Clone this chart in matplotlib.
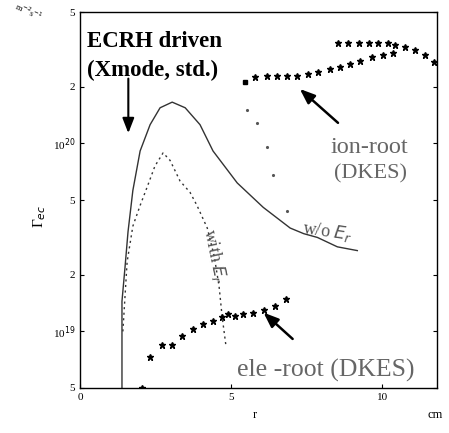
import matplotlib
matplotlib.use("Agg")
import matplotlib.pyplot as plt
import numpy as np

# ---- data ----
r_woEr = [1.39, 1.39, 1.49, 1.59, 1.75, 1.99, 2.32, 2.65, 3.05, 3.48, 3.97, 4.40, 5.20, 6.06, 6.95, 7.40, 7.85, 8.51, 9.17]
log_woEr = [18.65, 19.16, 19.34, 19.53, 19.75, 19.96, 20.10, 20.19, 20.22, 20.19, 20.10, 19.96, 19.79, 19.66, 19.55, 19.52, 19.50, 19.45, 19.43]

r_withEr = [1.42, 1.56, 1.75, 1.99, 2.25, 2.48, 2.75, 2.98, 3.31, 3.64, 3.87, 4.21, 4.44, 4.60, 4.70, 4.83]
log_withEr = [19.00, 19.37, 19.56, 19.67, 19.78, 19.88, 19.95, 19.91, 19.80, 19.74, 19.67, 19.55, 19.40, 19.24, 19.08, 18.92]

r_sparse = [5.53, 5.86, 6.19, 6.39, 6.85]
log_sparse = [20.18, 20.11, 19.98, 19.83, 19.64]

r_ion_lo = [5.46, 5.79, 6.19, 6.52, 6.85, 7.19, 7.55, 7.88, 8.28, 8.61, 8.94, 9.27, 9.67, 10.03, 10.36]
log_ion_lo = [20.326, 20.353, 20.358, 20.358, 20.358, 20.358, 20.369, 20.380, 20.396, 20.406, 20.422, 20.439, 20.460, 20.471, 20.481]

r_ion_hi = [8.54, 8.87, 9.21, 9.54, 9.87, 10.17, 10.43, 10.76, 11.09, 11.42, 11.69]
log_ion_hi = [20.535, 20.535, 20.535, 20.535, 20.535, 20.535, 20.524, 20.513, 20.497, 20.471, 20.433]

r_ele = [2.05, 2.32, 2.72, 3.05, 3.38, 3.74, 4.07, 4.40, 4.70, 4.90, 5.13, 5.40, 5.73, 6.09, 6.46, 6.82]
log_ele = [18.70, 18.866, 18.93, 18.93, 18.973, 19.011, 19.037, 19.053, 19.075, 19.091, 19.080, 19.091, 19.096, 19.112, 19.134, 19.171]

ytick_vals = [5e18, 1e19, 2e19, 5e19, 1e20, 2e20, 5e20]
ytick_labels = ["5", "10$^{19}$", "2", "5", "10$^{20}$", "2", "5"]
xtick_vals = [0, 5, 10]
xtick_labels = ["0", "5", "10"]

plt.rcParams['font.family'] = ['Liberation Serif', 'DejaVu Serif']
fig = plt.figure(figsize=(4.49, 4.33), dpi=100)
ax = fig.add_axes([0.178, 0.104, 0.795, 0.868])

p = lambda l: 10 ** np.array(l)
ax.plot(r_woEr, p(log_woEr), color='#333333', lw=1.0)
ax.plot(r_withEr, p(log_withEr), color='#333333', lw=1.0, ls=(0, (1.5, 2.5)))
ax.plot(r_sparse, p(log_sparse), color='#555555', lw=0, marker='.', ms=2.5)
ax.plot(r_ion_lo[1:], p(log_ion_lo[1:]), ls='none', marker='*', ms=5, color='black')
ax.plot(r_ion_lo[:1], p(log_ion_lo[:1]), ls='none', marker='s', ms=3.5, color='black')
ax.plot(r_ion_hi, p(log_ion_hi), ls='none', marker='*', ms=5, color='black')
ax.plot(r_ele, p(log_ele), ls='none', marker='*', ms=5, color='black')

ax.set_yscale('log')
ax.set_xlim(0, 11.8)
ax.set_ylim(5e18, 5e20)
ax.set_yticks(ytick_vals)
ax.set_yticklabels(ytick_labels)
ax.yaxis.set_minor_locator(matplotlib.ticker.NullLocator())
ax.set_xticks(xtick_vals)
ax.set_xticklabels(xtick_labels)
ax.tick_params(direction='in', labelsize=8, length=3, top=False, right=True)
for s in ax.spines.values():
    s.set_linewidth(1.0)

# annotations
ax.text(0.25, 10 ** 20.54, "ECRH driven", fontsize=16.5, fontweight='bold', va='center')
ax.text(0.25, 10 ** 20.39, "(Xmode, std.)", fontsize=16.5, fontweight='bold', va='center')
ax.annotate("", xy=(1.6, 10 ** 20.04), xytext=(1.6, 10 ** 20.36),
            arrowprops=dict(arrowstyle='-|>,head_width=0.35,head_length=0.9', color='black', lw=1.5))
ax.annotate("", xy=(7.2, 10 ** 20.3), xytext=(8.6, 10 ** 20.1),
            arrowprops=dict(arrowstyle='-|>,head_width=0.35,head_length=0.9', color='black', lw=1.8))
ax.text(8.3, 10 ** 19.98, "ion-root", fontsize=17.5, color='#666666', va='center')
ax.text(8.4, 10 ** 19.84, "(DKES)", fontsize=16, color='#666666', va='center')
ax.text(7.3, 10 ** 19.53, "w/o $E_r$", fontsize=13, color='#555555', rotation=-8, va='center')
ax.text(4.45, 10 ** 19.40, "with $E_r$", fontsize=13, color='#555555', rotation=-78, va='center', ha='center')
ax.annotate("", xy=(6.0, 10 ** 19.11), xytext=(7.1, 10 ** 18.95),
            arrowprops=dict(arrowstyle='-|>,head_width=0.35,head_length=0.9', color='black', lw=1.8))
ax.text(5.2, 10 ** 18.79, "ele -root (DKES)", fontsize=18.5, color='#666666', va='center')

fig.text(0.563, 0.035, "r", fontsize=9)
fig.text(0.952, 0.035, "cm", fontsize=9)
fig.text(0.07, 0.5, "Γ$_{ec}$", fontsize=11, rotation=90, va='center')
fig.text(0.03, 0.95, "m$^{-2}$s$^{-1}$", fontsize=6, rotation=-25)

fig.savefig("out.png", dpi=100)
